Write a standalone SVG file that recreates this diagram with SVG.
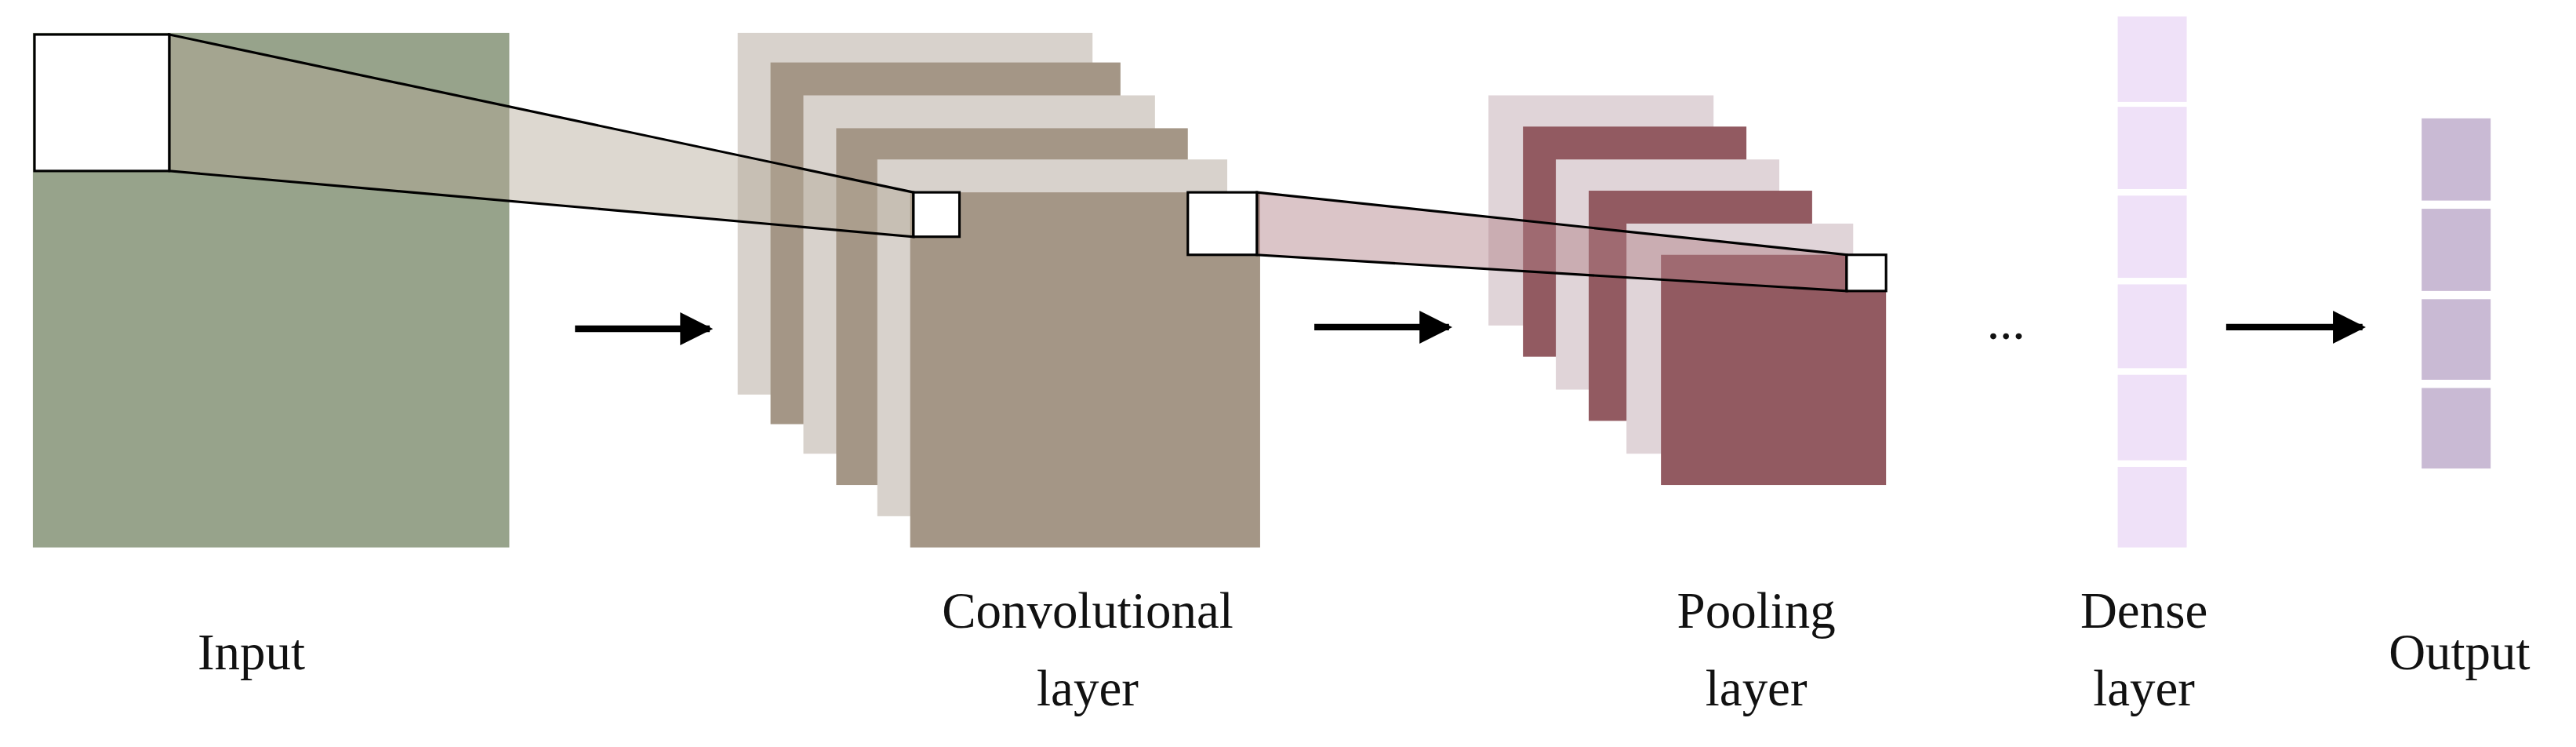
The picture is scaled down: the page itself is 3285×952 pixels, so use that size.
<svg xmlns="http://www.w3.org/2000/svg" width="3285" height="952" viewBox="0 0 3285 952">
<defs>
<style>
.lbl{font-family:"Liberation Serif",serif;font-size:31px;fill:#111;text-anchor:middle}
.cl{fill:#d8d2cc}.cb{fill:#a49686}
.pl{fill:#e0d4d8}.pr{fill:#925a61}
.de{fill:#efe1f8}.ou{fill:#c9bad4}
.ws{fill:#fff;stroke:#000;stroke-width:1.5}
</style>
<marker id="ah" viewBox="0 0 10 10" refX="9" refY="5" markerWidth="5" markerHeight="5" orient="auto"><path d="M0,0L10,5L0,10z" fill="#000"/></marker>
</defs>
<rect width="3285" height="952" fill="#fff"/>
<g transform="scale(2.0951)">
<g id="input"><rect x="20" y="20" width="290" height="313" fill="#97a38b"/></g>
<g id="conv">
<rect class="cl" x="449" y="20" width="216" height="220"/>
<rect class="cb" x="469" y="38" width="213" height="220"/>
<rect class="cl" x="489" y="58" width="214" height="218"/>
<rect class="cb" x="509" y="78" width="214" height="217"/>
<rect class="cl" x="534" y="97" width="213" height="217"/>
<rect class="cb" x="554" y="117" width="213" height="216"/>
</g>
<g id="pool">
<rect class="pl" x="906" y="58" width="137" height="140"/>
<rect class="pr" x="927" y="77" width="136" height="140"/>
<rect class="pl" x="947" y="97" width="136" height="140"/>
<rect class="pr" x="967" y="116" width="136" height="140"/>
<rect class="pl" x="990" y="136" width="138" height="140"/>
<rect class="pr" x="1011" y="155" width="137" height="140"/>
</g>
<g id="dense">
<rect class="de" x="1289" y="10" width="42" height="52"/>
<rect class="de" x="1289" y="65" width="42" height="50"/>
<rect class="de" x="1289" y="119" width="42" height="50"/>
<rect class="de" x="1289" y="173" width="42" height="51"/>
<rect class="de" x="1289" y="228" width="42" height="52"/>
<rect class="de" x="1289" y="284" width="42" height="49"/>
</g>
<g id="output">
<rect class="ou" x="1474" y="72" width="42" height="50"/>
<rect class="ou" x="1474" y="127" width="42" height="50"/>
<rect class="ou" x="1474" y="182" width="42" height="49"/>
<rect class="ou" x="1474" y="236" width="42" height="49"/>
</g>
<g id="connectors">
<polygon points="103,21 556,117 556,144 103,104" fill="#b3a996" fill-opacity="0.45" stroke="#000" stroke-width="1.5"/>
<rect class="ws" x="21" y="21" width="82" height="83"/>
<rect class="ws" x="556" y="117" width="28" height="27"/>
<polygon points="765,117 1124,155 1124,177 765,155" fill="#b07f86" fill-opacity="0.45" stroke="#000" stroke-width="1.5"/>
<rect class="ws" x="723" y="117" width="42" height="38"/>
<rect class="ws" x="1124" y="155" width="24" height="22"/>
<line x1="350" y1="200" x2="432" y2="200" stroke="#000" stroke-width="4" marker-end="url(#ah)"/>
<line x1="800" y1="199" x2="882" y2="199" stroke="#000" stroke-width="4" marker-end="url(#ah)"/>
<line x1="1355" y1="199" x2="1438" y2="199" stroke="#000" stroke-width="4" marker-end="url(#ah)"/>
</g>
<text class="lbl" x="1221" y="206">...</text>
<text class="lbl" x="153" y="407">Input</text>
<text class="lbl" x="662" y="382">Convolutional</text>
<text class="lbl" x="662" y="429">layer</text>
<text class="lbl" x="1069" y="382">Pooling</text>
<text class="lbl" x="1069" y="429">layer</text>
<text class="lbl" x="1305" y="382">Dense</text>
<text class="lbl" x="1305" y="429">layer</text>
<text class="lbl" x="1497" y="407">Output</text>
</g>
</svg>
